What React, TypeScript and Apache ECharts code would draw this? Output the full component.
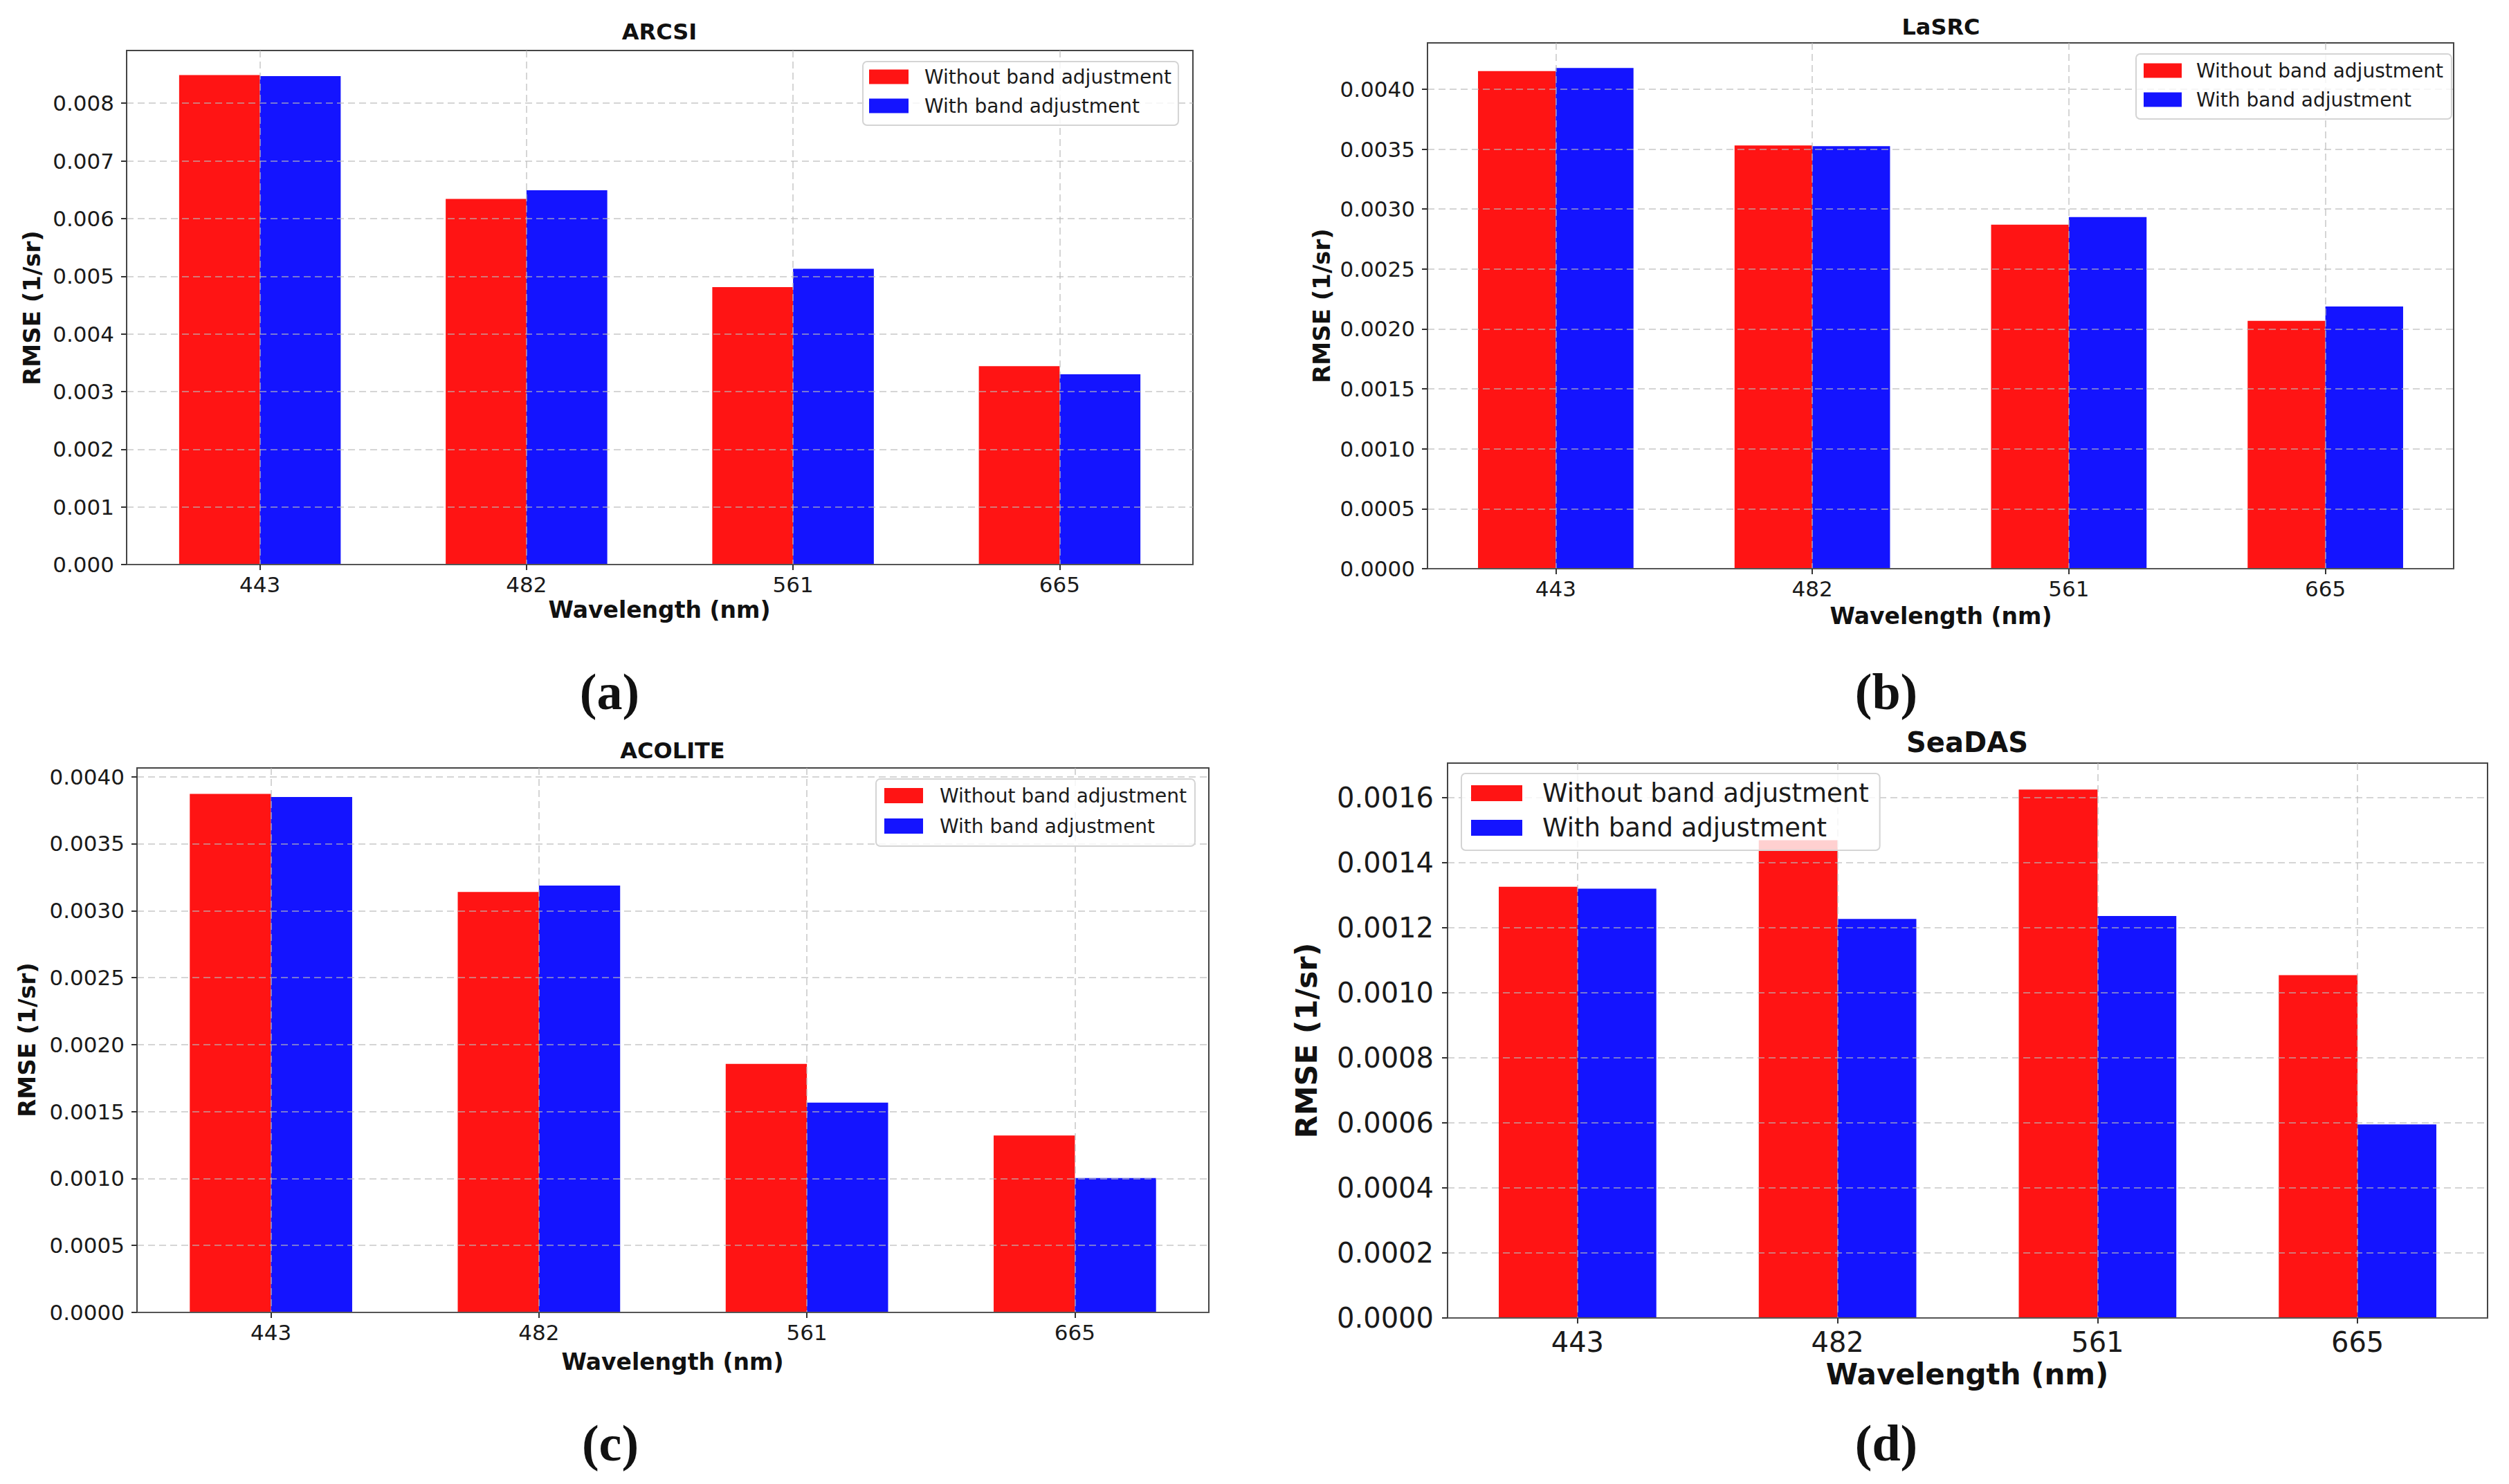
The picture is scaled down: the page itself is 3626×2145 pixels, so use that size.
import React, { useEffect, useRef } from "react";
import * as echarts from "echarts";

// ---------- data ----------
const wavelengths = ["443", "482", "561", "665"];
const seriesNames = ["Without band adjustment", "With band adjustment"];
const panelTitles = ["ARCSI", "LaSRC", "ACOLITE", "SeaDAS"];
const panelLetters = ["(a)", "(b)", "(c)", "(d)"];

const arcsiWithout = [0.00849, 0.00634, 0.00481, 0.00344];
const arcsiWith = [0.00847, 0.00649, 0.00513, 0.0033];
const lasrcWithout = [0.00415, 0.00353, 0.00287, 0.002067];
const lasrcWith = [0.004177, 0.003524, 0.002933, 0.002187];
const acoliteWithout = [0.003872, 0.00314, 0.001856, 0.001321];
const acoliteWith = [0.003849, 0.003188, 0.001567, 0.001004];
const seadasWithout = [0.001326, 0.001469, 0.001625, 0.001054];
const seadasWith = [0.00132, 0.001227, 0.001236, 0.000595];

const ticksA = [0, 0.001, 0.002, 0.003, 0.004, 0.005, 0.006, 0.007, 0.008];
const ticksB = [0, 0.0005, 0.001, 0.0015, 0.002, 0.0025, 0.003, 0.0035, 0.004];
const ticksC = [0, 0.0005, 0.001, 0.0015, 0.002, 0.0025, 0.003, 0.0035, 0.004];
const ticksD = [0, 0.0002, 0.0004, 0.0006, 0.0008, 0.001, 0.0012, 0.0014, 0.0016];

const xAxisName = "Wavelength (nm)";
const yAxisName = "RMSE (1/sr)";

// ---------- styles ----------
const SANS = '"DejaVu Sans", sans-serif';
const SERIF = '"Liberation Serif", "DejaVu Serif", serif';
const RED = "#ff1414";
const BLUE = "#1414ff";
const GRIDLINE = "rgba(185,185,185,0.6)";

const panels = [
  {
    title: panelTitles[0], letter: panelLetters[0], without: arcsiWithout, withAdj: arcsiWith,
    ticks: ticksA, interval: 0.001, decimals: 3,
    grid: { left: 183, top: 73, width: 1541, height: 743 },
    tickFont: 31, nameFont: 33, yNameFont: 34, titleFont: 32, legendFont: 28,
    titlePos: [953, 46], xNamePos: [953, 881], yNamePos: [46, 445], letterPos: [881, 1000],
    legend: { left: 1247, top: 89, padding: [8, 10, 14, 9], itemWidth: 57, itemHeight: 21, itemGap: 14, textPad: 18 },
    xLabelMargin: 13, yLabelMargin: 18,
  },
  {
    title: panelTitles[1], letter: panelLetters[1], without: lasrcWithout, withAdj: lasrcWith,
    ticks: ticksB, interval: 0.0005, decimals: 4,
    grid: { left: 2063, top: 62, width: 1483, height: 760 },
    tickFont: 31, nameFont: 33, yNameFont: 34, titleFont: 32, legendFont: 28,
    titlePos: [2805, 39], xNamePos: [2805, 890], yNamePos: [1910, 442], letterPos: [2726, 1000],
    legend: { left: 3087, top: 78, padding: [10, 12, 14, 11], itemWidth: 55, itemHeight: 21, itemGap: 14, textPad: 16 },
    xLabelMargin: 13, yLabelMargin: 18,
  },
  {
    title: panelTitles[2], letter: panelLetters[2], without: acoliteWithout, withAdj: acoliteWith,
    ticks: ticksC, interval: 0.0005, decimals: 4,
    grid: { left: 198, top: 1110, width: 1549, height: 787 },
    tickFont: 31, nameFont: 33, yNameFont: 34, titleFont: 32, legendFont: 28,
    titlePos: [972, 1085], xNamePos: [972, 1968], yNamePos: [39, 1503], letterPos: [882, 2086],
    legend: { left: 1266, top: 1126, padding: [10, 12, 15, 12], itemWidth: 56, itemHeight: 22, itemGap: 16, textPad: 19 },
    xLabelMargin: 13, yLabelMargin: 18,
  },
  {
    title: panelTitles[3], letter: panelLetters[3], without: seadasWithout, withAdj: seadasWith,
    ticks: ticksD, interval: 0.0002, decimals: 4,
    grid: { left: 2092, top: 1103, width: 1503, height: 802 },
    tickFont: 40, nameFont: 42, yNameFont: 43, titleFont: 40, legendFont: 37,
    titlePos: [2843, 1073], xNamePos: [2843, 1986], yNamePos: [1888, 1504], letterPos: [2726, 2086],
    legend: { left: 2112, top: 1118, padding: [10, 16, 14, 14], itemWidth: 74, itemHeight: 23, itemGap: 13, textPad: 24 },
    xLabelMargin: 15, yLabelMargin: 20,
  },
];

function text(x: number, y: number, str: string, size: number, weight: string, family: string, rotation = 0) {
  return {
    type: "text",
    x,
    y,
    rotation,
    z: 10,
    style: {
      text: str,
      fill: "#111",
      fontSize: size,
      fontWeight: weight,
      fontFamily: family,
      align: "center",
      verticalAlign: "middle",
      textAlign: "center",
      textVerticalAlign: "middle",
    },
  };
}

function buildOption() {
  const grids: any[] = [];
  const xAxes: any[] = [];
  const yAxes: any[] = [];
  const series: any[] = [];
  const legends: any[] = [];
  const graphics: any[] = [];

  panels.forEach((p, i) => {
    grids.push({
      ...p.grid,
      show: true,
      borderColor: "#454545",
      borderWidth: 2,
      backgroundColor: "transparent",
      containLabel: false,
    });
    const barW = (0.3 * p.grid.width) / 3.96;
    xAxes.push({
      type: "category",
      gridIndex: i,
      data: wavelengths,
      z: 3,
      axisLine: { show: true, lineStyle: { color: "#555", width: 2 } },
      axisTick: { show: true, alignWithLabel: true, length: 8, lineStyle: { color: "#333", width: 2 } },
      axisLabel: { fontSize: p.tickFont, lineHeight: p.tickFont, fontFamily: SANS, color: "#1a1a1a", margin: p.xLabelMargin },
      splitLine: { show: true, alignWithLabel: true, lineStyle: { color: GRIDLINE, width: 2, type: [10, 6] } },
    });
    const yMax = Math.max(...p.without, ...p.withAdj) * 1.05;
    yAxes.push({
      type: "value",
      gridIndex: i,
      min: 0,
      max: yMax,
      interval: p.interval,
      z: 3,
      axisLine: { show: true, lineStyle: { color: "#454545", width: 2 } },
      axisTick: { show: true, customValues: p.ticks, length: 8, lineStyle: { color: "#333", width: 2 } },
      axisLabel: {
        customValues: p.ticks,
        fontSize: p.tickFont,
        fontFamily: SANS,
        color: "#1a1a1a",
        margin: p.yLabelMargin,
        formatter: (v: number) => v.toFixed(p.decimals),
      },
      splitLine: { show: true, lineStyle: { color: GRIDLINE, width: 2, type: [10, 6] } },
    });
    series.push({
      type: "bar",
      name: seriesNames[0],
      xAxisIndex: i,
      yAxisIndex: i,
      data: p.without,
      barWidth: barW,
      barGap: "0%",
      itemStyle: { color: RED },
      z: 2,
    });
    series.push({
      type: "bar",
      name: seriesNames[1],
      xAxisIndex: i,
      yAxisIndex: i,
      data: p.withAdj,
      barWidth: barW,
      barGap: "0%",
      itemStyle: { color: BLUE },
      z: 2,
    });
    legends.push({
      orient: "vertical",
      left: p.legend.left,
      top: p.legend.top,
      padding: p.legend.padding,
      itemWidth: p.legend.itemWidth,
      itemHeight: p.legend.itemHeight,
      itemGap: p.legend.itemGap,
      icon: "rect",
      selectedMode: false,
      data: seriesNames,
      backgroundColor: "rgba(255,255,255,0.8)",
      borderColor: "#d4d4d4",
      borderWidth: 2,
      borderRadius: 6,
      z: 6,
      textStyle: {
        fontSize: p.legendFont,
        lineHeight: p.legendFont,
        fontFamily: SANS,
        color: "#1a1a1a",
        padding: [0, 0, 0, p.legend.textPad],
      },
    });
    graphics.push(text(p.titlePos[0], p.titlePos[1], p.title, p.titleFont, "bold", SANS));
    graphics.push(text(p.xNamePos[0], p.xNamePos[1], xAxisName, p.nameFont, "bold", SANS));
    graphics.push(text(p.yNamePos[0], p.yNamePos[1], yAxisName, p.yNameFont, "bold", SANS, Math.PI / 2));
    graphics.push(text(p.letterPos[0], p.letterPos[1], p.letter, 74, "bold", SERIF));
  });

  return {
    animation: false,
    backgroundColor: "#ffffff",
    grid: grids,
    xAxis: xAxes,
    yAxis: yAxes,
    series,
    legend: legends,
    graphic: graphics,
  };
}

export default function App() {
  const ref = useRef<HTMLDivElement>(null);
  useEffect(() => {
    if (!ref.current) return;
    const chart = echarts.init(ref.current, undefined, { renderer: "svg" });
    chart.setOption(buildOption() as any);
    return () => chart.dispose();
  }, []);
  return (
    <div
      ref={ref}
      style={{ position: "fixed", left: 0, top: 0, width: 3626, height: 2145, background: "#fff" }}
    />
  );
}
